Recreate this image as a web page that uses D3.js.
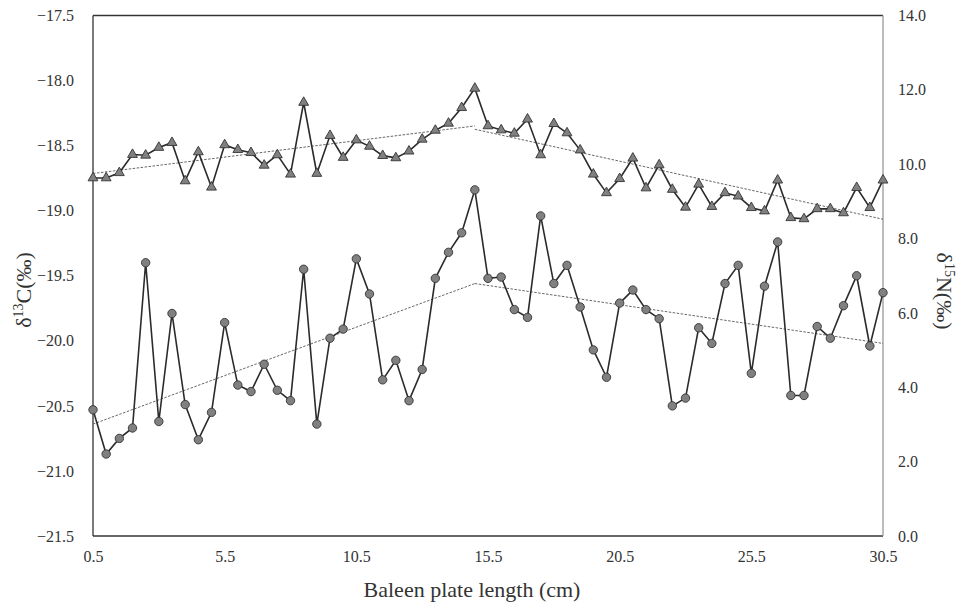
<!DOCTYPE html>
<html>
<head>
<meta charset="utf-8">
<script src="https://cdn.jsdelivr.net/npm/d3@7"></script>
<style>
  body { margin: 0; background: #fff; }
  svg text { font-family: "Liberation Serif", "Tinos", "Times New Roman", Times, "DejaVu Serif", serif; fill: #333; }
</style>
</head>
<body>
<div id="chart"></div>
<script>
const width = 959;
const height = 604;
const margin = { top: 15.5, right: 76, bottom: 68, left: 93 };
const serif = '"Liberation Serif", "Tinos", "Times New Roman", Times, "DejaVu Serif", serif';

// baleen position, every 0.5 cm
const lengths = d3.range(61).map((i) => 0.5 + i * 0.5);

// d13C (left axis), circles
const carbon = [
  -20.53, -20.87, -20.75, -20.67, -19.40, -20.62, -19.79, -20.49, -20.76, -20.55,
  -19.86, -20.34, -20.39, -20.18, -20.38, -20.46, -19.45, -20.64, -19.98, -19.91,
  -19.37, -19.64, -20.30, -20.15, -20.46, -20.22, -19.52, -19.32, -19.17, -18.84,
  -19.52, -19.51, -19.76, -19.82, -19.04, -19.56, -19.42, -19.74, -20.07, -20.28,
  -19.71, -19.61, -19.76, -19.83, -20.50, -20.44, -19.90, -20.02, -19.56, -19.42,
  -20.25, -19.58, -19.24, -20.42, -20.42, -19.89, -19.98, -19.73, -19.50, -20.04,
  -19.63
];

// d15N (right axis), triangles
const nitrogen = [
  9.63, 9.63, 9.77, 10.26, 10.24, 10.45, 10.58, 9.55, 10.33, 9.38,
  10.52, 10.39, 10.31, 9.97, 10.25, 9.73, 11.66, 9.75, 10.77, 10.18,
  10.65, 10.48, 10.23, 10.17, 10.35, 10.67, 10.91, 11.10, 11.52, 12.04,
  11.03, 10.92, 10.83, 11.21, 10.25, 11.09, 10.84, 10.38, 9.73, 9.23,
  9.61, 10.16, 9.36, 9.98, 9.32, 8.84, 9.46, 8.86, 9.23, 9.14,
  8.83, 8.74, 9.57, 8.56, 8.53, 8.80, 8.80, 8.69, 9.37, 8.83,
  9.57
];

// trend segments: [x0, y0, x1, y1]
const carbonTrend = [[0.5, -20.64, 15.0, -19.56], [15.0, -19.56, 30.5, -20.02]];
const nitrogenTrend = [[0.5, 9.75, 15.0, 11.03], [15.0, 10.94, 30.5, 8.52]];

const xTicks = [0.5, 5.5, 10.5, 15.5, 20.5, 25.5, 30.5];
const yLeftTicks = d3.range(9).map((i) => -21.5 + i * 0.5);
const yRightTicks = d3.range(8).map((i) => i * 2);

const x = d3.scaleLinear().domain([0.5, 30.5]).range([margin.left, width - margin.right]);
const yL = d3.scaleLinear().domain([-21.5, -17.5]).range([height - margin.bottom, margin.top]);
const yR = d3.scaleLinear().domain([0, 14]).range([height - margin.bottom, margin.top]);

const svg = d3.select("#chart").append("svg")
  .attr("width", width)
  .attr("height", height);

// axes (labels only, frame drawn separately)
const gx = svg.append("g")
  .attr("transform", `translate(0,${height - margin.bottom})`)
  .call(d3.axisBottom(x).tickValues(xTicks).tickSize(0).tickPadding(15).tickFormat(d3.format(".1f")));

const gl = svg.append("g")
  .attr("transform", `translate(${margin.left},0)`)
  .call(d3.axisLeft(yL).tickValues(yLeftTicks).tickSize(0).tickPadding(19).tickFormat(d3.format(".1f")));

const gr = svg.append("g")
  .attr("transform", `translate(${width - margin.right},0)`)
  .call(d3.axisRight(yR).tickValues(yRightTicks).tickSize(0).tickPadding(15).tickFormat(d3.format(".1f")));

[gx, gl, gr].forEach((g) => {
  g.attr("font-family", serif).attr("font-size", 16);
  g.select(".domain").remove();
  g.selectAll("text").attr("fill", "#333");
});

// frame
const x0 = x.range()[0], x1 = x.range()[1];
const yTop = margin.top, yBot = height - margin.bottom;
svg.append("line").attr("x1", x0).attr("x2", x1).attr("y1", yTop).attr("y2", yTop)
  .attr("stroke", "#333").attr("stroke-width", 1.3);
svg.append("line").attr("x1", x0).attr("x2", x1).attr("y1", yBot).attr("y2", yBot)
  .attr("stroke", "#333").attr("stroke-width", 1.3);
svg.append("line").attr("x1", x0).attr("x2", x0).attr("y1", yTop).attr("y2", yBot)
  .attr("stroke", "#333").attr("stroke-width", 1.3);
svg.append("line").attr("x1", x1).attr("x2", x1).attr("y1", yTop).attr("y2", yBot)
  .attr("stroke", "#999").attr("stroke-width", 1.3);

// trend lines
function drawTrend(segs, y) {
  svg.append("g").selectAll("line")
    .data(segs)
    .enter()
    .append("line")
    .attr("x1", (d) => x(d[0]))
    .attr("y1", (d) => y(d[1]))
    .attr("x2", (d) => x(d[2]))
    .attr("y2", (d) => y(d[3]))
    .attr("stroke", "#555")
    .attr("stroke-width", 0.9)
    .attr("stroke-dasharray", "2.5,1.5");
}
drawTrend(carbonTrend, yL);
drawTrend(nitrogenTrend, yR);

// series lines
const carbonData = lengths.map((l, i) => [l, carbon[i]]);
const nitrogenData = lengths.map((l, i) => [l, nitrogen[i]]);

svg.append("path")
  .datum(nitrogenData)
  .attr("fill", "none")
  .attr("stroke", "#2b2b2b")
  .attr("stroke-width", 1.6)
  .attr("d", d3.line().x((d) => x(d[0])).y((d) => yR(d[1])));

svg.append("path")
  .datum(carbonData)
  .attr("fill", "none")
  .attr("stroke", "#2b2b2b")
  .attr("stroke-width", 1.6)
  .attr("d", d3.line().x((d) => x(d[0])).y((d) => yL(d[1])));

// markers
svg.append("g").selectAll("path")
  .data(nitrogenData)
  .enter()
  .append("path")
  .attr("transform", (d) => `translate(${x(d[0])},${yR(d[1])})`)
  .attr("d", d3.symbol().type(d3.symbolTriangle).size(42))
  .attr("fill", "#808080")
  .attr("stroke", "#333")
  .attr("stroke-width", 0.9);

svg.append("g").selectAll("circle")
  .data(carbonData)
  .enter()
  .append("circle")
  .attr("cx", (d) => x(d[0]))
  .attr("cy", (d) => yL(d[1]))
  .attr("r", 4.2)
  .attr("fill", "#808080")
  .attr("stroke", "#333")
  .attr("stroke-width", 0.9);

// titles
svg.append("text")
  .attr("x", 472)
  .attr("y", 597)
  .attr("text-anchor", "middle")
  .attr("font-family", serif)
  .attr("font-size", 22)
  .text("Baleen plate length (cm)");

const lt = svg.append("text")
  .attr("transform", "translate(31,290) rotate(-90)")
  .attr("text-anchor", "middle")
  .attr("font-family", serif)
  .attr("font-size", 22);
lt.append("tspan").text("δ");
lt.append("tspan").attr("dy", -8).attr("font-size", 14).text("13");
lt.append("tspan").attr("dy", 8).text("C(‰)");

const rt = svg.append("text")
  .attr("transform", "translate(937,291) rotate(90)")
  .attr("text-anchor", "middle")
  .attr("font-family", serif)
  .attr("font-size", 22);
rt.append("tspan").text("δ");
rt.append("tspan").attr("dy", -8).attr("font-size", 14).text("15");
rt.append("tspan").attr("dy", 8).text("N(‰)");
</script>
</body>
</html>
